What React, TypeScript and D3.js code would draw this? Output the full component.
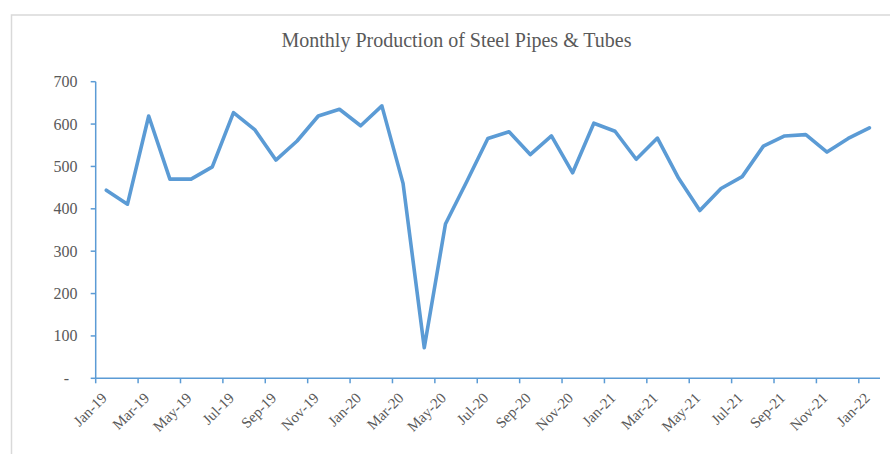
import React from "react";
import * as d3 from "d3";

const months = [
  "Jan-19","Feb-19","Mar-19","Apr-19","May-19","Jun-19","Jul-19","Aug-19","Sep-19","Oct-19","Nov-19","Dec-19",
  "Jan-20","Feb-20","Mar-20","Apr-20","May-20","Jun-20","Jul-20","Aug-20","Sep-20","Oct-20","Nov-20","Dec-20",
  "Jan-21","Feb-21","Mar-21","Apr-21","May-21","Jun-21","Jul-21","Aug-21","Sep-21","Oct-21","Nov-21","Dec-21",
  "Jan-22",
];
const production = [
  444, 411, 619, 470, 470, 499, 627, 587, 515, 560, 619, 635,
  596, 643, 460, 72, 364, 464, 566, 582, 528, 572, 485, 602,
  583, 517, 567, 472, 396, 448, 476, 548, 572, 575, 534, 566,
  591,
];
const yTicks = [0, 100, 200, 300, 400, 500, 600, 700];
const title = "Monthly Production of Steel Pipes & Tubes";

const W = 890;
const H = 454;
const left = 95.7;
const right = 880;
const top = 81.7;
const bottom = 378.3;
const blue = "#5B9BD5";
const textColor = "#595959";
const font = "'Liberation Serif', 'Times New Roman', serif";

export default function App() {
  const x = d3.scaleBand<string>().domain(months).range([left, right]).padding(0);
  const bw = x.bandwidth();
  const y = d3.scaleLinear().domain([0, 700]).range([bottom, top]);
  const line = d3
    .line<number>()
    .x((_, i) => (x(months[i]) as number) + bw / 2)
    .y((d) => y(d))
    .curve(d3.curveLinear);

  const tickIdx = months.map((_, i) => i).filter((i) => i % 2 === 0);

  return (
    <svg
      width={W}
      height={H}
      style={{ position: "absolute", left: 0, top: 0, background: "#fff" }}
    >
      <rect x={0} y={0} width={W} height={H} fill="#fff" />
      <rect x={11.5} y={15} width={W + 20} height={H + 20} fill="#fff" stroke="#d9d9d9" strokeWidth={1.5} />
      <text
        x={456.5}
        y={47}
        textAnchor="middle"
        fontFamily={font}
        fontSize={20}
        fill={textColor}
      >
        {title}
      </text>
      {/* y axis */}
      <line x1={left} x2={left} y1={top} y2={bottom} stroke={blue} strokeWidth={1.5} />
      {yTicks.map((t) => (
        <g key={t}>
          <line x1={left - 5} x2={left} y1={y(t)} y2={y(t)} stroke={blue} strokeWidth={1.5} />
          <text
            x={t === 0 ? 69 : 77.5}
            y={y(t) + 5.5}
            textAnchor="end"
            fontFamily={font}
            fontSize={16}
            fill={textColor}
          >
            {t === 0 ? "-" : String(t)}
          </text>
        </g>
      ))}
      {/* x axis */}
      <line x1={left} x2={right} y1={bottom} y2={bottom} stroke={blue} strokeWidth={1.5} />
      {tickIdx.map((i) => {
        const bx = x(months[i]) as number;
        const cx = bx + bw / 2;
        return (
          <g key={months[i]}>
            <line x1={bx} x2={bx} y1={bottom} y2={bottom + 5} stroke={blue} strokeWidth={1.5} />
            <text
              transform={`translate(${cx + 1.5},${399}) rotate(-45)`}
              textAnchor="end"
              fontFamily={font}
              fontSize={15}
              fill={textColor}
            >
              {months[i]}
            </text>
          </g>
        );
      })}
      <path
        d={line(production) || ""}
        fill="none"
        stroke={blue}
        strokeWidth={3.6}
        strokeLinejoin="round"
        strokeLinecap="round"
      />
    </svg>
  );
}
